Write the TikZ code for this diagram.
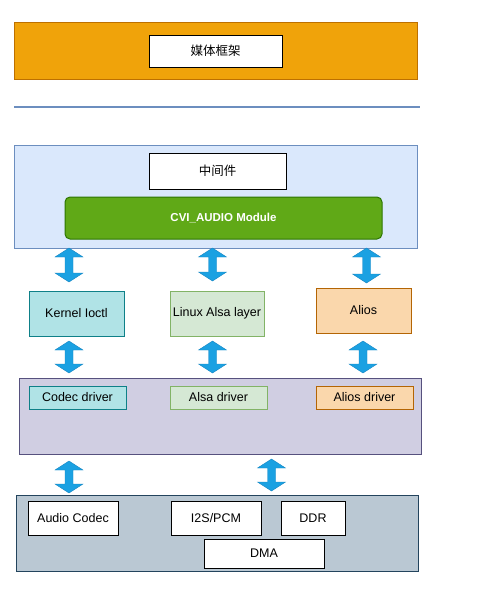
\documentclass[tikz,border=0pt]{standalone}
\usepackage{fontspec}
\setmainfont{Liberation Sans}
\newfontfamily\cjk{Noto Sans CJK SC}
\definecolor{orangeF}{HTML}{F0A30A}
\definecolor{orangeD}{HTML}{BD7000}
\definecolor{blueF}{HTML}{DAE8FC}
\definecolor{blueD}{HTML}{6C8EBF}
\definecolor{greenF}{HTML}{60A917}
\definecolor{greenD}{HTML}{2D7600}
\definecolor{tealF}{HTML}{B0E3E6}
\definecolor{tealD}{HTML}{0E8088}
\definecolor{lgreenF}{HTML}{D5E8D4}
\definecolor{lgreenD}{HTML}{82B366}
\definecolor{peachF}{HTML}{FAD7AC}
\definecolor{peachD}{HTML}{B46504}
\definecolor{purpF}{HTML}{D0CEE2}
\definecolor{purpD}{HTML}{56517E}
\definecolor{greyF}{HTML}{BAC8D3}
\definecolor{greyD}{HTML}{23445D}
\definecolor{arrF}{HTML}{1BA1E2}
\definecolor{arrD}{HTML}{1585C2}
\tikzset{
  layer/.style={draw, line width=1pt, inner sep=0pt},
  box/.style={draw=black, fill=white, line width=1pt, inner sep=0pt, font=\fontsize{12.5}{14}\selectfont},
  cbox/.style={box, font=\cjk\fontsize{12.5}{14}\selectfont},
  barrow/.style={fill=arrF, draw=arrD, line width=0.4pt, line join=miter}
}
% block double arrow: center x, top y, bottom y
\newcommand\blockarrow[3]{%
  \draw[barrow] (#1,#2) -- (#1+14,#2+9) -- (#1+4,#2+9) -- (#1+4,#3-9) -- (#1+14,#3-9)
    -- (#1,#3) -- (#1-14,#3-9) -- (#1-4,#3-9) -- (#1-4,#2+9) -- (#1-14,#2+9) -- cycle;}
\newcommand\rectnode[6]{% style, name, x1, y1, x2, y2 ; text via next arg
  \node[#1, minimum width=#5-#3, minimum height=#6-#4] (#2) at ({(#3+#5)/2},{(#4+#6)/2})}
\begin{document}
\begin{tikzpicture}[x=1pt, y=-1pt]
\useasboundingbox (0,0) rectangle (478,598);
% top layer
\rectnode{layer, draw=orangeD, fill=orangeF}{media}{14}{22}{417}{79} {};
\rectnode{cbox}{mediabox}{149}{35}{282}{67} {媒体框架};
% separator line
\draw[blueD, line width=2pt] (14,107) -- (420,107);
% middleware layer
\rectnode{layer, draw=blueD, fill=blueF}{mid}{14}{145}{417}{248} {};
\rectnode{cbox}{midbox}{149}{153}{286}{189} {中间件};
\rectnode{layer, draw=greenD, fill=greenF, rounded corners=5pt, text=white, font=\bfseries\fontsize{11.5}{14}\selectfont}{cvi}{65}{197}{382}{239} {CVI\_AUDIO Module};
% arrows row 1
\blockarrow{69}{248}{282}
\blockarrow{212.5}{248}{281}
\blockarrow{366.5}{248}{283}
% middle boxes
\rectnode{box, draw=tealD, fill=tealF}{kernel}{29}{291}{124}{336} {Kernel Ioctl};
\rectnode{box, draw=lgreenD, fill=lgreenF}{linux}{170}{291}{264}{336} {Linux Alsa layer};
\rectnode{box, draw=peachD, fill=peachF}{alios}{316}{288}{411}{333} {Alios};
% arrows row 2
\blockarrow{69}{341}{373}
\blockarrow{212.5}{341}{373}
\blockarrow{363}{341}{373}
% driver layer
\rectnode{layer, draw=purpD, fill=purpF}{drv}{19}{378}{421}{454} {};
\rectnode{box, draw=tealD, fill=tealF}{codecdrv}{29}{386}{126}{409} {Codec driver};
\rectnode{box, draw=lgreenD, fill=lgreenF}{alsadrv}{170}{386}{267}{409} {Alsa driver};
\rectnode{box, draw=peachD, fill=peachF}{aliosdrv}{316}{386}{413}{409} {Alios driver};
% arrows row 3
\blockarrow{69}{461}{493}
\blockarrow{271.5}{459}{491}
% hardware layer
\rectnode{layer, draw=greyD, fill=greyF}{hw}{16}{495}{418}{571} {};
\rectnode{box}{codec}{28}{501}{118}{535} {Audio Codec};
\rectnode{box}{i2s}{171}{501}{261}{535} {I2S/PCM};
\rectnode{box}{ddr}{281}{501}{345}{535} {DDR};
\rectnode{box}{dma}{204}{539}{324}{568} {DMA};
\end{tikzpicture}
\end{document}
